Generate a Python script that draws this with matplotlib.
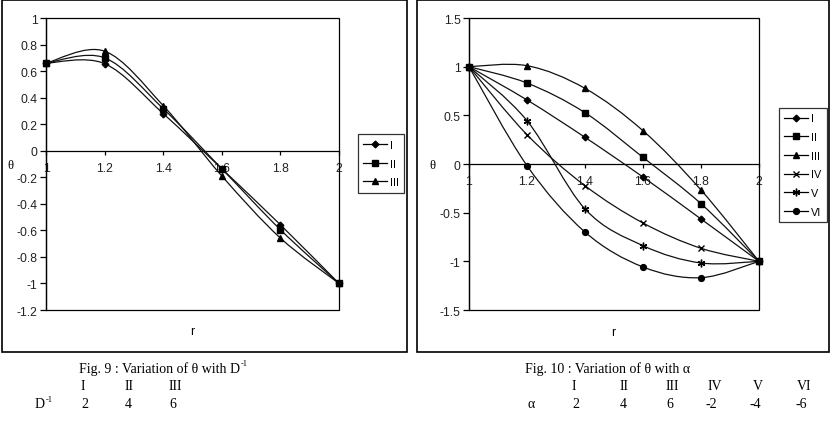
import matplotlib
matplotlib.use('Agg')
import matplotlib.pyplot as plt
from matplotlib.path import Path
from matplotlib.patches import PathPatch, Rectangle

r = [1.0, 1.2, 1.4, 1.6, 1.8, 2.0]

# Fig. 9 : theta for D^-1 = 2, 4, 6
fig9_I = [0.66, 0.656, 0.28, -0.136, -0.558, -1.0]
fig9_II = [0.66, 0.70, 0.317, -0.136, -0.595, -1.0]
fig9_III = [0.66, 0.75, 0.34, -0.19, -0.658, -1.0]

# Fig. 10 : theta for alpha = 2, 4, 6, -2, -4, -6
fig10_I = [1.0, 0.658, 0.274, -0.134, -0.565, -1.0]
fig10_II = [1.0, 0.832, 0.527, 0.068, -0.408, -1.0]
fig10_III = [1.0, 1.01, 0.777, 0.342, -0.267, -1.0]
fig10_IV = [1.0, 0.301, -0.223, -0.606, -0.866, -1.0]
fig10_V = [1.0, 0.445, -0.462, -0.839, -1.017, -1.0]
fig10_VI = [1.0, -0.017, -0.699, -1.058, -1.168, -1.0]

labels9 = ['I', 'II', 'III']
labels10 = ['I', 'II', 'III', 'IV', 'V', 'VI']
d_inv = [2, 4, 6]
alphas = [2, 4, 6, -2, -4, -6]
markers = ['D', 's', '^', 'x', (6, 2, 0), 'o']
msizes = [3.4, 4.0, 4.6, 4.8, 5.5, 4.2]

W, H = 833, 431


def smooth_line(ax, x, y):
    # excel-like smoothed line: catmull-rom segments as cubic bezier
    verts = [(x[0], y[0])]
    codes = [Path.MOVETO]
    n = len(x)
    for i in range(n - 1):
        x0, y0 = (x[i - 1], y[i - 1]) if i > 0 else (x[i], y[i])
        x3, y3 = (x[i + 2], y[i + 2]) if i + 2 < n else (x[i + 1], y[i + 1])
        c1 = (x[i] + (x[i + 1] - x0) / 6, y[i] + (y[i + 1] - y0) / 6)
        c2 = (x[i + 1] - (x3 - x[i]) / 6, y[i + 1] - (y3 - y[i]) / 6)
        verts += [c1, c2, (x[i + 1], y[i + 1])]
        codes += [Path.CURVE4] * 3
    ax.add_patch(PathPatch(Path(verts, codes), fill=False, ec='#111111', lw=0.9, zorder=3))


def px_axes(fig, x0, y0, x1, y1):
    return fig.add_axes([x0 / W, 1 - y1 / H, (x1 - x0) / W, (y1 - y0) / H])


def setup(ax, ylim, yticks):
    ax.set_xlim(1, 2)
    ax.set_ylim(*ylim)
    ax.set_yticks(yticks)
    ax.set_yticklabels(['%g' % v for v in yticks], fontsize=8.8, family='Liberation Sans', color='#222222')
    ax.tick_params(axis='y', direction='out', length=4, width=0.9, pad=2)
    ax.spines['bottom'].set_position(('data', 0))
    ax.spines['top'].set_visible(False)
    ax.spines['right'].set_visible(False)
    for s in ax.spines.values():
        s.set_linewidth(0.9)
    ax.set_xticks(r)
    ax.set_xticklabels(['1', '1.2', '1.4', '1.6', '1.8', '2'], fontsize=8.8,
                       family='Liberation Sans', color='#222222')
    ax.tick_params(axis='x', direction='out', length=3, width=0.9, pad=5)
    ax.add_patch(Rectangle((0, 0), 1, 1, transform=ax.transAxes, fill=False,
                           ec='black', lw=0.9, clip_on=False, zorder=4))


def sup_text(fig, x, y, base, sup):
    t = fig.text(x / W, 1 - y / H, base, **serif)
    fig.canvas.draw()
    bb = t.get_window_extent()
    fig.text(bb.x1 / W + 0.5 / W, 1 - (y - 5) / H, sup, fontsize=6, family='Liberation Serif', va='center')


fig = plt.figure(figsize=(W / 100, H / 100), dpi=100)

# panel frames
for x0, x1 in [(2, 407), (417, 829)]:
    fig.patches.append(Rectangle((x0 / W, 1 - 353 / H), (x1 - x0) / W, 352 / H,
                                 transform=fig.transFigure, fill=False, ec='black', lw=1.2))

legend_kw = dict(loc='center', frameon=True, fancybox=False, edgecolor='black', handlelength=2.2,
                 handletextpad=0.3, labelspacing=0.8, borderpad=0.5, borderaxespad=0,
                 prop={'family': 'Liberation Sans', 'size': 7.8})

# Fig. 9
ax1 = px_axes(fig, 46, 19, 339, 311)
setup(ax1, (-1.2, 1), [-1.2, -1, -0.8, -0.6, -0.4, -0.2, 0, 0.2, 0.4, 0.6, 0.8, 1])
for ys, lab, m, ms in zip([fig9_I, fig9_II, fig9_III], labels9, markers, msizes):
    smooth_line(ax1, r, ys)
    ax1.plot(r, ys, ls='none', marker=m, ms=ms, color='black', mew=1, zorder=5, clip_on=False)
    ax1.plot([], [], color='black', lw=0.9, marker=m, ms=ms, label=lab)
leg = fig.legend(*ax1.get_legend_handles_labels(), bbox_to_anchor=(381 / W, 1 - 164.5 / H), **legend_kw)
leg.get_frame().set_linewidth(0.9)
fig.text(10 / W, 1 - 166 / H, '\u03b8', fontsize=9, family='Liberation Serif', ha='center', va='center')
fig.text(192 / W, 1 - 332 / H, 'r', fontsize=8.8, family='Liberation Sans', ha='center', va='center')

# Fig. 10
ax2 = px_axes(fig, 469, 19, 759, 311)
setup(ax2, (-1.5, 1.5), [-1.5, -1, -0.5, 0, 0.5, 1, 1.5])
series10 = [fig10_I, fig10_II, fig10_III, fig10_IV, fig10_V, fig10_VI]
for ys, lab, m, ms in zip(series10, labels10, markers, msizes):
    smooth_line(ax2, r, ys)
    ax2.plot(r, ys, ls='none', marker=m, ms=ms, color='black', mew=1, zorder=5, clip_on=False)
    ax2.plot([], [], color='black', lw=0.9, marker=m, ms=ms, label=lab)
leg = fig.legend(*ax2.get_legend_handles_labels(), bbox_to_anchor=(803 / W, 1 - 166 / H), **legend_kw)
leg.get_frame().set_linewidth(0.9)
fig.text(432 / W, 1 - 166 / H, '\u03b8', fontsize=9, family='Liberation Serif', ha='center', va='center')
fig.text(613 / W, 1 - 333 / H, 'r', fontsize=8.8, family='Liberation Sans', ha='center', va='center')

# captions
serif = dict(fontsize=10, family='Liberation Serif', va='center')
sup_text(fig, 79, 369, 'Fig. 9 : Variation of \u03b8 with D', '-1')
for lab, x in zip(labels9, [81, 125, 169]):
    fig.text(x / W, 1 - 387 / H, lab, **serif)
sup_text(fig, 35, 405, 'D', '-1')
for v, x in zip(d_inv, [81, 125, 169]):
    fig.text(x / W, 1 - 405 / H, str(v), **serif)

fig.text(525 / W, 1 - 369 / H, 'Fig. 10 : Variation of \u03b8 with \u03b1', **serif)
for lab, x in zip(labels10, [572, 620, 666, 708, 753, 797]):
    fig.text(x / W, 1 - 387 / H, lab, **serif)
fig.text(527 / W, 1 - 405 / H, '\u03b1', **serif)
for v, x in zip(alphas, [572, 620, 666, 705, 750, 795]):
    fig.text(x / W, 1 - 405 / H, str(v), **serif)

fig.savefig('out.png', dpi=100)
